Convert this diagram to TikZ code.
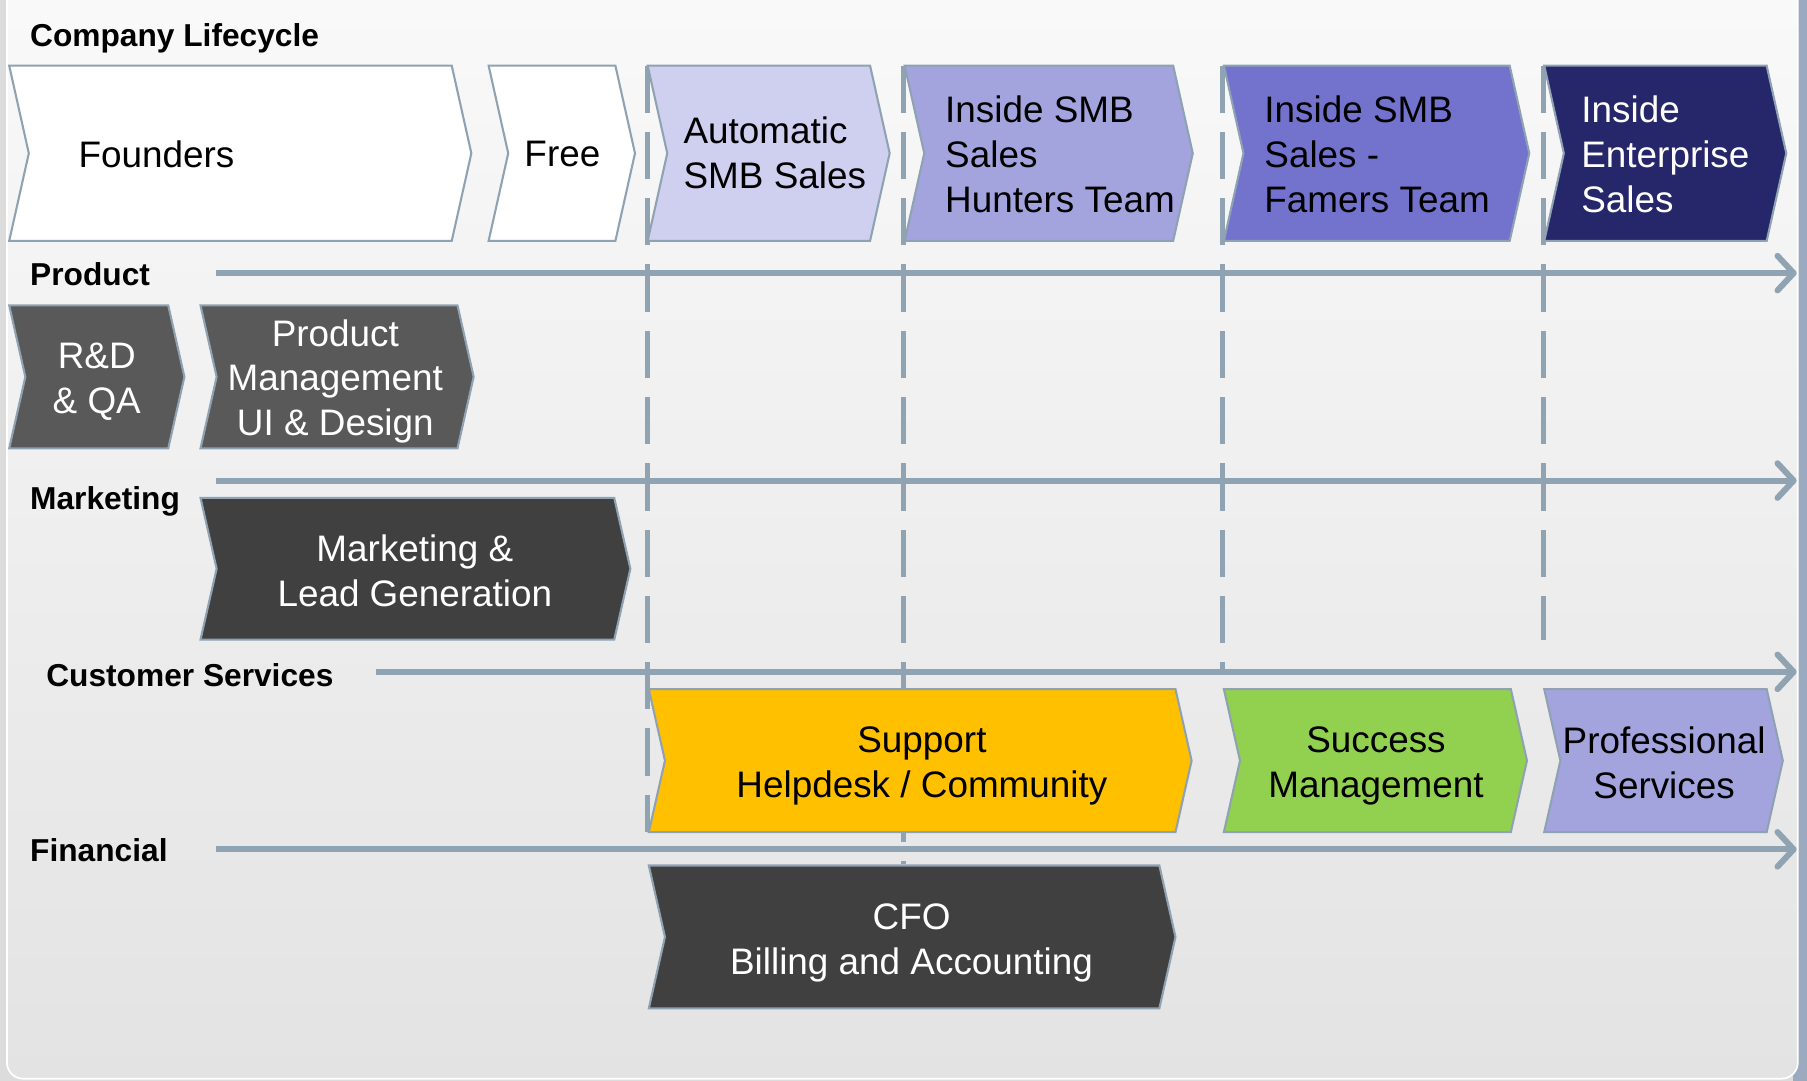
\documentclass[tikz,border=0pt]{standalone}
\usepackage{fontspec}
\setmainfont{Liberation Sans}
\usetikzlibrary{arrows.meta}

\definecolor{steel}{HTML}{8FA3B2}
\definecolor{edgeline}{HTML}{8EA2B2}
\definecolor{outleft}{HTML}{DCDCDC}
\definecolor{outright}{HTML}{9CAAC0}
\definecolor{paneltop}{HTML}{FAFAFA}
\definecolor{panelbot}{HTML}{E3E3E3}
\definecolor{lavlight}{HTML}{CFCFEF}
\definecolor{lavmid}{HTML}{A3A3DE}
\definecolor{lavdeep}{HTML}{7373CE}
\definecolor{navy}{HTML}{26266A}
\definecolor{greymid}{HTML}{595959}
\definecolor{greydark}{HTML}{404040}
\definecolor{amber}{HTML}{FFC000}
\definecolor{leaf}{HTML}{92D050}

% chevron outline: style, left x, right x, top y, bottom y, point depth
\newcommand{\chevshape}[6]{%
  \path[chevbox,#1] (#2,#4) -- (#3,#4) -- ({#3+#6},{(#4+#5)/2}) -- (#3,#5)
    -- (#2,#5) -- ({#2+#6},{(#4+#5)/2}) -- cycle;}

\begin{document}
\begin{tikzpicture}[x=1pt,y=-1pt,
  chevbox/.style={draw=edgeline,line width=1.8pt,line join=miter},
  txt/.style={font=\fontsize{32}{39}\selectfont,inner sep=0pt,align=center},
  txtl/.style={txt,align=left,anchor=west},
  lbl/.style={font=\fontsize{27.5}{33}\selectfont\bfseries,inner sep=0pt,anchor=west},
  lane/.style={draw=steel,line width=5.2pt,-{Straight Barb[length=14pt,width=30pt,round]}},
  stage/.style={draw=steel,line width=4.3pt,dash pattern=on 41pt off 16.5pt}]

\useasboundingbox (0,0) rectangle (1568,938);

% backdrop panel
\fill[outleft] (0,0) rectangle (1568,938);
\fill[outright] (1556,0) rectangle (1568,938);
\shade[top color=paneltop,bottom color=panelbot,rounded corners=14pt]
  (6,-40) rectangle (1560,936);
\draw[white,line width=1.5pt,rounded corners=14pt] (6,-40) rectangle (1560,936);

% stage boundaries
\foreach \n/\x/\yb in {a/562/722, b/784/750, c/1061/583, d/1339/555}{
  \coordinate (st\n) at (\x,57);
  \coordinate (sb\n) at (\x,\yb);
}
\foreach \n in {a,b,c,d}{\draw[stage] (st\n) -- (sb\n);}

% lane arrows
\coordinate (prodS) at (187,237);  \coordinate (prodE) at (1559,237);
\coordinate (mktS)  at (187,417);  \coordinate (mktE)  at (1559,417);
\coordinate (csS)   at (326,583);  \coordinate (csE)   at (1559,583);
\coordinate (finS)  at (187,737);  \coordinate (finE)  at (1559,737);
\draw[lane] (prodS) -- (prodE);
\draw[lane] (mktS) -- (mktE);
\draw[lane] (csS) -- (csE);
\draw[lane] (finS) -- (finE);

% lane labels
\node[lbl] (lcyc) at (26,33)  {Company Lifecycle};
\node[lbl] (lprod) at (26,238) {Product};
\node[lbl] (lmkt) at (26,435) {Marketing};
\node[lbl] (lcs) at (40,586) {Customer Services};
\node[lbl] (lfin) at (26,738) {Financial};

% lifecycle stages
\chevshape{fill=white}{8}{392}{57}{209}{17}
\chevshape{fill=white}{424}{534}{57}{209}{17}
\chevshape{fill=lavlight}{562}{755}{57}{209}{17}
\chevshape{fill=lavmid}{785}{1018}{57}{209}{17}
\chevshape{fill=lavdeep}{1062}{1310}{57}{209}{17}
\chevshape{fill=navy}{1340}{1533}{57}{209}{17}
\node[txtl] (founders) at (68,134) {Founders};
\node[txt] (free) at (488,134) {Free};
\node[txtl] (autosmb) at (593,133) {Automatic\\SMB Sales};
\node[txtl] (hunters) at (820,134) {Inside SMB\\Sales\\Hunters Team};
\node[txtl] (farmers) at (1097,134) {Inside SMB\\Sales -\\Famers Team};
\node[txtl,text=white] (enterprise) at (1372,134) {Inside\\Enterprise\\Sales};

% product
\chevshape{fill=greymid}{8}{146}{265}{389}{14}
\chevshape{fill=greymid}{174}{397}{265}{389}{14}
\node[txt,text=white] (rdqa) at (84,331) {R\&D\\\& QA};
\node[txt,text=white] (pm) at (291,331) {Product\\Management\\UI \& Design};

% marketing
\chevshape{fill=greydark}{174}{533}{432}{555}{14}
\node[txt,text=white] (mlg) at (360,495) {Marketing \&\\Lead Generation};

% customer services
\chevshape{fill=amber}{563}{1020}{598}{722}{14}
\chevshape{fill=leaf}{1062}{1311}{598}{722}{14}
\chevshape{fill=lavmid}{1340}{1533}{598}{722}{14}
\node[txt] (support) at (800,665) {Support\\Helpdesk / Community};
\node[txt] (success) at (1194,665) {Success\\Management};
\node[txt] (profsvc) at (1444,662) {Professional\\Services};

% financial
\chevshape{fill=greydark}{563}{1006}{751}{875}{14}
\node[txt,text=white] (cfo) at (791,818) {CFO\\Billing and Accounting};

\end{tikzpicture}
\end{document}
